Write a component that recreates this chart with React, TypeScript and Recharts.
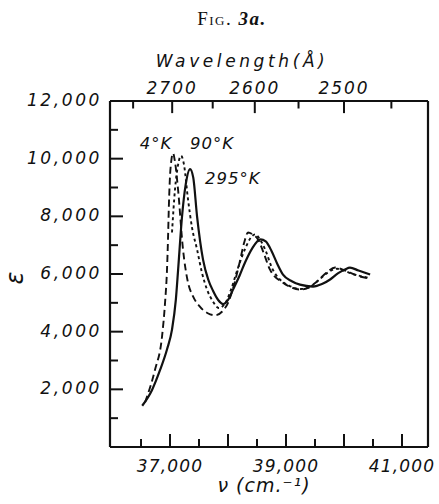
import React from 'react';
import { LineChart, Line, XAxis, YAxis, ReferenceDot, ReferenceLine } from 'recharts';

// wavenumber (cm^-1) and extinction coefficient
const nu4K = [36570, 36741, 36862, 36914, 36948, 36965, 36980, 36995, 37020, 37052, 37085, 37138, 37224, 37300, 37397, 37500, 37650, 37780, 37900, 38000, 38100, 38200, 38280, 38345, 38420, 38517, 38620, 38724, 38948, 39100, 39241, 39380, 39534, 39700, 39845, 39980, 40103, 40250, 40448];
const eps4K = [1550, 2680, 3830, 5000, 6160, 7200, 8350, 9200, 9900, 10190, 9900, 8940, 6850, 5800, 5220, 4900, 4640, 4570, 4700, 5000, 5600, 6400, 7100, 7440, 7380, 7200, 6700, 6150, 5700, 5530, 5460, 5520, 5740, 6050, 6226, 6150, 6050, 5930, 5840];

const nu90K = [37034, 37086, 37140, 37190, 37240, 37310, 37380, 37466, 37550, 37638, 37740, 37840, 37940, 38050, 38170, 38300, 38400, 38466, 38550, 38650, 38760, 38900, 39050, 39250, 39400, 39560, 39720, 39880, 40020, 40150, 40300, 40450];
const eps90K = [7440, 8940, 9800, 10100, 9800, 8590, 7600, 6850, 6050, 5460, 5050, 4820, 4950, 5450, 6200, 6900, 7280, 7374, 7200, 6800, 6200, 5800, 5600, 5480, 5540, 5780, 6050, 6180, 6100, 6000, 5920, 5860];

const nu295K = [36520, 36690, 36830, 36950, 37034, 37100, 37140, 37207, 37270, 37345, 37400, 37466, 37569, 37660, 37741, 37830, 37920, 38000, 38086, 38200, 38293, 38420, 38560, 38650, 38750, 38850, 38948, 39100, 39241, 39466, 39620, 39760, 39900, 40017, 40103, 40250, 40450];
const eps295K = [1430, 1980, 2680, 3400, 4070, 5100, 6160, 8000, 9100, 9640, 9350, 8000, 6500, 5800, 5420, 5100, 4960, 5100, 5460, 5950, 6400, 6900, 7200, 7130, 6800, 6350, 5980, 5750, 5630, 5565, 5650, 5810, 6030, 6160, 6220, 6120, 5980];

const bottomTicks = [36500, 37000, 37500, 38000, 38500, 39000, 39500, 40000, 40500, 41000];
const bottomLabelled = [37000, 39000, 41000];
const leftTicks = [1000, 2000, 3000, 4000, 5000, 6000, 7000, 8000, 9000, 10000, 11000, 12000];
const leftLabelled = [2000, 4000, 6000, 8000, 10000, 12000];
const topWavelengths = [2750, 2700, 2650, 2600, 2550, 2500, 2450];
const topLabelled = [2700, 2600, 2500];

const curveLabels = [
  { text: '4°K', nu: 36480, eps: 10330 },
  { text: '90°K', nu: 37345, eps: 10330 },
  { text: '295°K', nu: 37603, eps: 9113 },
];

const toSeries = (nu: number[], eps: number[]) => nu.map((n, i) => ({ nu: n, eps: eps[i] }));

const NU_DOMAIN = [35965, 41448];
const EPS_MAX = 12000;
const INK = '#111';
const tickFont = {
  fontFamily: '"DejaVu Sans", sans-serif',
  fontStyle: 'italic' as const,
  fontSize: 16,
  letterSpacing: 1.8,
  fill: INK,
};

const fmt = (v: number) => v.toLocaleString('en-US');

const BottomTick = ({ x, y, payload }: any) => {
  const v = payload.value;
  const major = v % 1000 === 0;
  return (
    <g>
      <line x1={x} x2={x} y1={y} y2={y - (major ? 13 : 8)} stroke={INK} strokeWidth={2} />
      {bottomLabelled.includes(v) && (
        <text x={x} y={y + 25} textAnchor="middle" {...tickFont} fontSize={17} letterSpacing={1.2}>{fmt(v)}</text>
      )}
    </g>
  );
};

const LeftTick = ({ x, y, payload }: any) => {
  const v = payload.value;
  const major = v % 2000 === 0;
  return (
    <g>
      <line x1={x} x2={x + (major ? 13 : 8)} y1={y} y2={y} stroke={INK} strokeWidth={2} />
      {leftLabelled.includes(v) && (
        <text x={x - 8} y={y + 5} textAnchor="end" {...tickFont} fontSize={17} letterSpacing={2.6}>{fmt(v)}</text>
      )}
    </g>
  );
};

// labels only; the tick marks of the wavelength scale are reference segments
const TopTick = ({ x, y, payload }: any) => {
  const lambda = Math.round(1e8 / payload.value);
  if (!topLabelled.includes(lambda)) return <g />;
  return (
    <text x={x} y={y - 7} textAnchor="middle" {...tickFont} fontSize={17} letterSpacing={2}>{lambda}</text>
  );
};

export default function App() {
  const s4 = toSeries(nu4K, eps4K);
  const s90 = toSeries(nu90K, eps90K);
  const s295 = toSeries(nu295K, eps295K);
  return (
    <div style={{ position: 'absolute', left: 0, top: 0, width: 439, height: 504, background: '#fff' }}>
      <LineChart width={439} height={504} margin={{ top: 61, right: 10, bottom: 7, left: 10 }}>
        <XAxis
          xAxisId="bottom"
          type="number"
          dataKey="nu"
          domain={NU_DOMAIN}
          ticks={bottomTicks}
          interval={0}
          height={50}
          tickSize={0}
          tickMargin={0}
          tickLine={false}
          tick={(p: any) => <BottomTick {...p} />}
          axisLine={{ stroke: INK, strokeWidth: 2.2 }}
          allowDataOverflow
        />
        <XAxis
          xAxisId="top"
          orientation="top"
          type="number"
          dataKey="nu"
          domain={NU_DOMAIN}
          ticks={topWavelengths.map((l) => 1e8 / l)}
          interval={0}
          height={40}
          tickSize={0}
          tickMargin={0}
          tickLine={false}
          tick={(p: any) => <TopTick {...p} />}
          axisLine={{ stroke: INK, strokeWidth: 2.2 }}
          allowDataOverflow
        />
        <YAxis
          yAxisId="left"
          type="number"
          domain={[0, EPS_MAX]}
          ticks={leftTicks}
          interval={0}
          width={100}
          tickSize={0}
          tickMargin={0}
          tickLine={false}
          tick={(p: any) => <LeftTick {...p} />}
          axisLine={{ stroke: INK, strokeWidth: 2.2 }}
          allowDataOverflow
        />
        <YAxis
          yAxisId="right"
          orientation="right"
          type="number"
          domain={[0, EPS_MAX]}
          width={1}
          tick={false}
          tickLine={false}
          axisLine={{ stroke: INK, strokeWidth: 2.2 }}
        />
        {/* invisible series so the wavelength axis gets a scale */}
        <Line
          xAxisId="top"
          yAxisId="right"
          data={s295}
          dataKey="eps"
          stroke="none"
          dot={false}
          activeDot={false}
          legendType="none"
          isAnimationActive={false}
        />
        {topWavelengths.map((l) => (
          <ReferenceLine
            key={l}
            xAxisId="bottom"
            yAxisId="left"
            segment={[
              { x: 1e8 / l, y: EPS_MAX },
              { x: 1e8 / l, y: EPS_MAX - (topLabelled.includes(l) ? 420 : 260) },
            ]}
            stroke={INK}
            strokeWidth={2}
            ifOverflow="visible"
          />
        ))}
        <Line
          xAxisId="bottom"
          yAxisId="left"
          data={s4}
          dataKey="eps"
          type="monotone"
          stroke={INK}
          strokeWidth={1.9}
          strokeDasharray="7 4"
          dot={false}
          isAnimationActive={false}
        />
        <Line
          xAxisId="bottom"
          yAxisId="left"
          data={s90}
          dataKey="eps"
          type="monotone"
          stroke={INK}
          strokeWidth={1.9}
          strokeDasharray="3 3"
          dot={false}
          isAnimationActive={false}
        />
        <Line
          xAxisId="bottom"
          yAxisId="left"
          data={s295}
          dataKey="eps"
          type="monotone"
          stroke={INK}
          strokeWidth={2.2}
          dot={false}
          isAnimationActive={false}
        />
        {curveLabels.map((c) => (
          <ReferenceDot
            key={c.text}
            xAxisId="bottom"
            yAxisId="left"
            x={c.nu}
            y={c.eps}
            r={1}
            shape={(p: any) => (
              <text x={p.cx} y={p.cy} {...tickFont} fontSize={16.5} letterSpacing={1}>{c.text}</text>
            )}
          />
        ))}
      </LineChart>
      <svg width={439} height={504} style={{ position: 'absolute', left: 0, top: 0, pointerEvents: 'none' }}>
        <text x={232} y={25} textAnchor="middle" fontFamily='"Liberation Serif", serif' fontSize={19}
          letterSpacing={1.5} fill={INK}>
          <tspan style={{ fontVariant: 'small-caps' }}>Fig.</tspan>{' '}
          <tspan fontWeight="bold" fontStyle="italic">3a.</tspan>
        </text>
        <text x={242} y={67} textAnchor="middle" {...tickFont} fontSize={17} letterSpacing={3.6}>
          Wavelength(Å)
        </text>
        <text x={264} y={492} textAnchor="middle" {...tickFont} fontSize={19} letterSpacing={1}>
          ν (cm.⁻¹)
        </text>
        <g transform="translate(23 278) rotate(-90)">
          <text x={0} y={0} textAnchor="middle" {...tickFont} fontSize={24} letterSpacing={0}>ε</text>
        </g>
      </svg>
    </div>
  );
}
